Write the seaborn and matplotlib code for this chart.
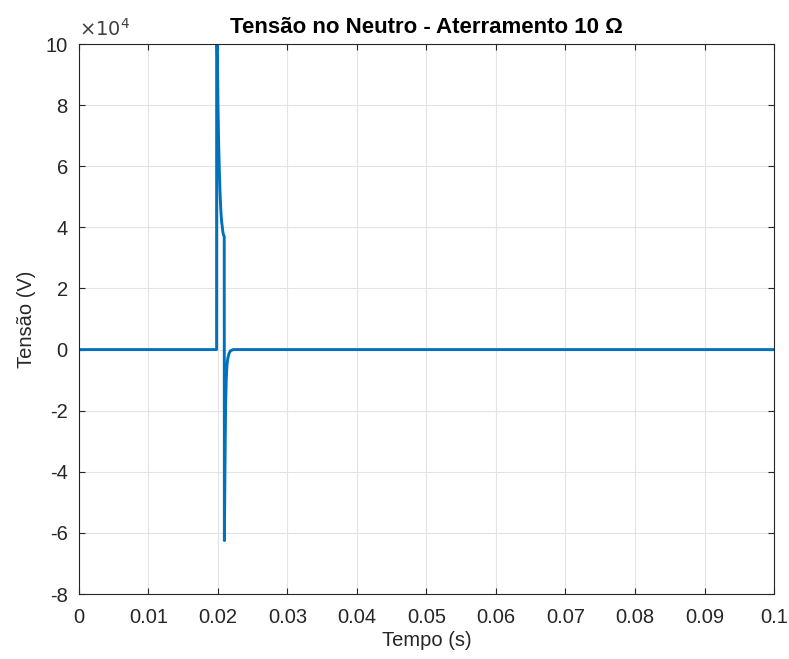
import numpy as np
import pandas as pd
import seaborn as sns
import matplotlib.pyplot as plt

# Tempo (s) e tensão no neutro (V)
tempo = [0.0, 0.0198, 0.01981, 0.0199, 0.0200, 0.0201, 0.0202, 0.0203, 0.0204,
         0.0205, 0.0206, 0.0207, 0.0208, 0.0209, 0.02092, 0.0210, 0.02105,
         0.0211, 0.0212, 0.0213, 0.0214, 0.0216, 0.0218, 0.0222, 0.1]
tensao = [0.0, 0.0, 130000, 100000, 80000, 67000, 58000, 51000, 46000,
          42500, 40500, 38500, 37500, 37000, -62500, -40000, -28000,
          -18000, -9000, -5000, -3000, -1200, -400, 0.0, 0.0]

xticks = [0, 0.01, 0.02, 0.03, 0.04, 0.05, 0.06, 0.07, 0.08, 0.09, 0.1]
xlabels = ["0", "0.01", "0.02", "0.03", "0.04", "0.05", "0.06", "0.07", "0.08", "0.09", "0.1"]
yticks = [-80000, -60000, -40000, -20000, 0, 20000, 40000, 60000, 80000, 100000]
ylabels = ["-8", "-6", "-4", "-2", "0", "2", "4", "6", "8", "10"]

df = pd.DataFrame({"tempo": tempo, "tensao": tensao})

sns.set_style("whitegrid")
plt.rcParams["font.family"] = ["Liberation Sans", "DejaVu Sans"]
plt.rcParams["axes.unicode_minus"] = False

fig = plt.figure(figsize=(7.89, 6.59), dpi=100)
ax = fig.add_axes([0.1001, 0.0986, 0.8809, 0.8346])

sns.lineplot(data=df, x="tempo", y="tensao", ax=ax, color="#0072BD",
             linewidth=2.1, sort=False, estimator=None)

ax.set_xlim(0, 0.1)
ax.set_ylim(-80000, 100000)
ax.set_xticks(xticks)
ax.set_xticklabels(xlabels)
ax.set_yticks(yticks)
ax.set_yticklabels(ylabels)

# fator de escala estilo MATLAB
ax.text(0.0, 1.008, r"$\times10^{4}$", transform=ax.transAxes, fontsize=14,
        color="#404040", ha="left", va="bottom")

ax.grid(True, color="#e3e3e3", linewidth=0.8)
for s in ax.spines.values():
    s.set_visible(True)
    s.set_color("#262626")
    s.set_linewidth(0.8)
ax.tick_params(direction="in", length=4, colors="#262626", labelsize=14.5,
               top=True, right=True, bottom=True, left=True)
ax.tick_params(axis="x", pad=10)
ax.tick_params(axis="y", pad=8)

ax.set_xlabel("Tempo (s)", fontsize=14.5, color="#262626", labelpad=3)
ax.set_ylabel("Tensão (V)", fontsize=14.5, color="#262626", labelpad=7)
ax.set_title("Tensão no Neutro - Aterramento 10 Ω", fontsize=16,
             fontweight="bold", color="black", pad=8)

fig.savefig("out.png", dpi=100)
